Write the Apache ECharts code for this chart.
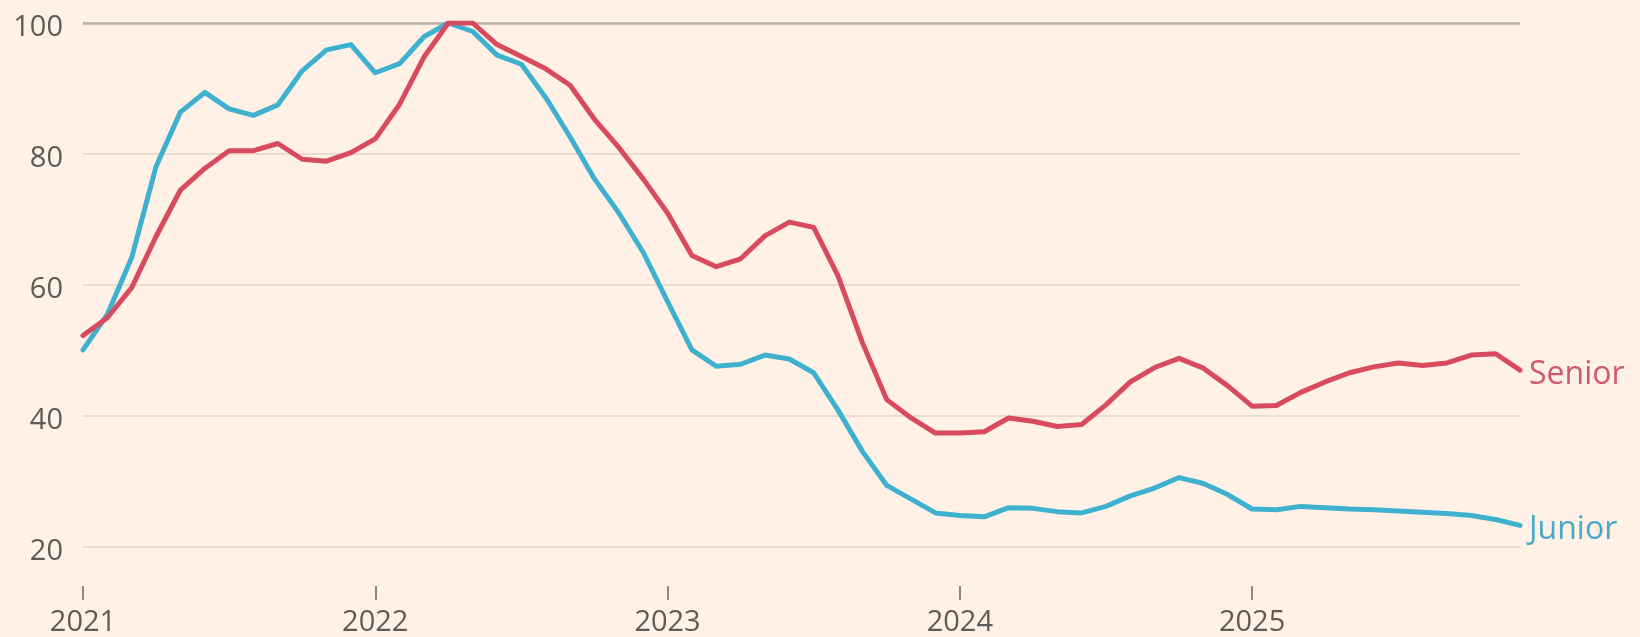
<!DOCTYPE html>
<html>
<head>
<meta charset="utf-8">
<script src="https://cdn.jsdelivr.net/npm/echarts@6/dist/echarts.min.js"></script>
<style>
  html, body { margin: 0; padding: 0; background: #fff1e5; }
  #chart { width: 1640px; height: 637px; }
</style>
</head>
<body>
<div id="chart"></div>
<script>
const months = [
  '2021-01','2021-02','2021-03','2021-04','2021-05','2021-06','2021-07','2021-08','2021-09','2021-10','2021-11','2021-12',
  '2022-01','2022-02','2022-03','2022-04','2022-05','2022-06','2022-07','2022-08','2022-09','2022-10','2022-11','2022-12',
  '2023-01','2023-02','2023-03','2023-04','2023-05','2023-06','2023-07','2023-08','2023-09','2023-10','2023-11','2023-12',
  '2024-01','2024-02','2024-03','2024-04','2024-05','2024-06','2024-07','2024-08','2024-09','2024-10','2024-11','2024-12',
  '2025-01','2025-02','2025-03','2025-04','2025-05','2025-06','2025-07','2025-08','2025-09','2025-10','2025-11','2025-12'
];

const junior = [
  50.1, 55.5, 64.2, 78.1, 86.4, 89.4, 86.9, 85.9, 87.5, 92.7, 95.9, 96.7,
  92.4, 93.8, 97.9, 100, 98.7, 95.1, 93.7, 88.6, 82.6, 76.2, 71.0, 65.0,
  57.5, 50.1, 47.6, 47.9, 49.3, 48.7, 46.6, 40.9, 34.6, 29.4, 27.3, 25.2,
  24.8, 24.6, 26.0, 25.9, 25.4, 25.2, 26.2, 27.8, 29.0, 30.6, 29.7, 28.0,
  25.8, 25.7, 26.2, 26.0, 25.8, 25.7, 25.5, 25.3, 25.1, 24.8, 24.2, 23.3
];

const senior = [
  52.3, 55.0, 59.6, 67.4, 74.5, 77.8, 80.5, 80.5, 81.6, 79.2, 78.9, 80.2,
  82.3, 87.6, 94.8, 100, 100, 96.7, 94.9, 93.0, 90.5, 85.3, 81.0, 76.2,
  71.0, 64.5, 62.8, 64.0, 67.5, 69.6, 68.8, 61.4, 51.2, 42.5, 39.7, 37.4,
  37.4, 37.6, 39.7, 39.2, 38.4, 38.7, 41.7, 45.2, 47.4, 48.8, 47.3, 44.6,
  41.5, 41.6, 43.6, 45.2, 46.6, 47.5, 48.1, 47.7, 48.1, 49.3, 49.5, 47.0
];

const yTicks = [20, 40, 60, 80, 100];
const colors = { Junior: '#3fb1d0', Senior: '#d84b5e' };
const labelColors = { Junior: '#4aa9c9', Senior: '#cf5a6b' };

const font = '"Open Sans", sans-serif';

const chart = echarts.init(document.getElementById('chart'), null, { renderer: 'canvas' });

function lineSeries(name, data, extra) {
  return Object.assign({
    name: name,
    type: 'line',
    data: data,
    symbol: 'none',
    smooth: false,
    lineStyle: { color: colors[name], width: 5, join: 'round', cap: 'round' },
    itemStyle: { color: colors[name] },
    endLabel: {
      show: true,
      formatter: '{a}',
      color: labelColors[name],
      fontSize: 32,
      fontFamily: font,
      distance: 9,
      offset: [0, 5]
    },
    animation: false,
    z: 3
  }, extra || {});
}

chart.setOption({
  backgroundColor: '#fff1e5',
  animation: false,
  grid: { left: 83, right: 120, top: 23, bottom: 88, containLabel: false },
  xAxis: {
    type: 'category',
    data: months,
    boundaryGap: false,
    offset: 39,
    axisLine: { show: false },
    axisTick: {
      show: true,
      interval: 11,
      length: 14,
      lineStyle: { color: '#8f8882', width: 2 }
    },
    axisLabel: {
      interval: 11,
      margin: 22,
      color: '#605a56',
      fontSize: 29,
      fontFamily: font,
      verticalAlign: 'top',
      formatter: function (v) { return v.slice(0, 4); }
    },
    splitLine: { show: false }
  },
  yAxis: {
    type: 'value',
    min: yTicks[0],
    max: yTicks[yTicks.length - 1],
    interval: 20,
    axisLine: { show: false },
    axisTick: { show: false },
    axisLabel: {
      margin: 20,
      color: '#605a56',
      fontSize: 29,
      fontFamily: font,
      formatter: function (v) { return '{t|' + v + '}'; },
      rich: {
        t: { fontSize: 29, fontFamily: font, color: '#605a56', padding: [10, 0, 0, 0] }
      }
    },
    splitLine: { show: true, lineStyle: { color: '#eadccf', width: 2 } }
  },
  series: [
    lineSeries('Junior', junior, {
      markLine: {
        silent: true,
        symbol: 'none',
        label: { show: false },
        lineStyle: { color: '#bab0a8', width: 2.5, type: 'solid' },
        data: [{ yAxis: 100 }],
        z: 1
      }
    }),
    lineSeries('Senior', senior, { z: 4 })
  ]
});
</script>
</body>
</html>
